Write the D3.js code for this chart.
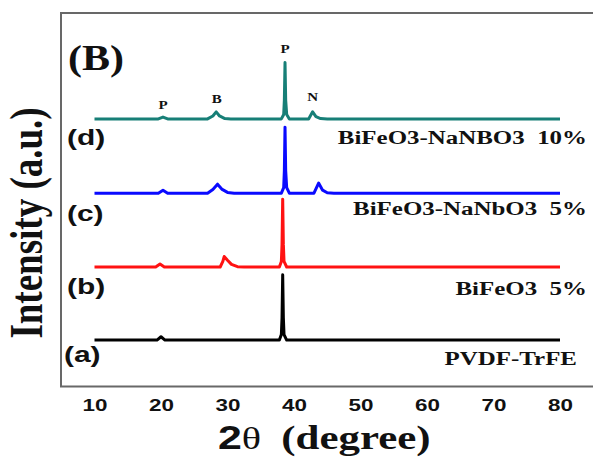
<!DOCTYPE html>
<html>
<head>
<meta charset="utf-8">
<script src="https://cdn.jsdelivr.net/npm/d3@7"></script>
<style>
  html, body { margin: 0; padding: 0; background: #fff; }
  svg { display: block; }
</style>
</head>
<body>
<div id="chart"></div>
<script>
// ---- data (2θ in degrees, intensity in a.u.) ----
const xTicks = [10, 20, 30, 40, 50, 60, 70, 80];

const seriesNames = ["PVDF-TrFE", "BiFeO3  5%", "BiFeO3-NaNbO3  5%", "BiFeO3-NaNBO3  10%"];
const seriesTags = ["(a)", "(b)", "(c)", "(d)"];
const seriesColors = ["#000000", "#ff1212", "#0a0aff", "#177f77"];
const seriesOffsets = [12.3, 31.9, 51.7, 71.6];

const pvdfData = [[10,0],[19.4,0],[20.0,0.9],[20.6,0],[37.8,0],[38.1,1.5],[38.2,6],[38.3,17.5],[38.4,6],[38.5,1.5],[38.9,0],[80,0]];
const bfoData = [[10,0],[19.2,0],[19.85,0.8],[20.5,0],[28.9,0],[29.3,1.5],[29.5,2.8],[30,1.8],[30.6,0.7],[31.5,0.1],[32.5,0],[37.8,0],[38.1,1.5],[38.2,6],[38.3,18.2],[38.4,6],[38.5,1.5],[38.9,0],[80,0]];
const bfoNno5Data = [[10,0],[19.6,0],[20.3,0.8],[21,0],[27,0],[27.8,1.0],[28.5,2.4],[29.2,1.0],[30,0.2],[31,0],[38.1,0],[38.45,1.5],[38.55,6],[38.65,17.7],[38.75,6],[38.9,1.5],[39.3,0],[43,0],[43.7,2.7],[44.3,0.8],[45,0.1],[46,0],[80,0]];
const bfoNno10Data = [[10,0],[19.6,0],[20.3,0.5],[21,0],[27,0],[27.8,0.8],[28.3,1.9],[28.8,0.8],[29.6,0.1],[30.5,0],[38.1,0],[38.45,1.2],[38.55,5],[38.65,15.1],[38.75,5],[38.9,1.2],[39.3,0],[42.2,0],[42.8,1.9],[43.3,0.6],[44,0.1],[45,0],[80,0]];
const seriesData = [pvdfData, bfoData, bfoNno5Data, bfoNno10Data];

const peakLabels = ["P", "B", "P", "N"];
const peakPos = [20.3, 28.4, 38.65, 42.8];
const peakLabelY = [74.2, 75.8, 89.4, 76.3];

// ---- layout ----
const W = 593, H = 458;
const svg = d3.select("#chart").append("svg").attr("width", W).attr("height", H);

const x = d3.scaleLinear().domain([10, 80]).range([94.5, 560]);
const y = d3.scaleLinear().domain([0, 100]).range([386, 13]);

const serif = "'Liberation Serif', 'Times New Roman', serif";
const sans = "'Liberation Sans', Arial, sans-serif";

// frame
const frame = svg.append("g").attr("stroke", "#686868").attr("stroke-width", 2).attr("fill", "none");
frame.append("line").attr("x1", 61).attr("x2", 61).attr("y1", 12).attr("y2", 387);
frame.append("line").attr("x1", 60).attr("x2", W).attr("y1", 13).attr("y2", 13);
frame.append("line").attr("x1", 60).attr("x2", W).attr("y1", 386.5).attr("y2", 386.5);

// x axis (labels only)
const axis = svg.append("g").attr("transform", "translate(0,386)")
  .call(d3.axisBottom(x).tickValues(xTicks).tickSize(0).tickFormat(d3.format("d")));
axis.select(".domain").remove();
axis.selectAll("text")
  .attr("y", 25).attr("dy", 0)
  .attr("transform", "scale(1.4,1)")
  .attr("font-family", sans).attr("font-weight", "bold").attr("font-size", 16)
  .attr("fill", "#111");

// lines
const line = d3.line().x(d => x(d[0])).y(d => d[1]).curve(d3.curveLinear);
seriesData.forEach((data, i) => {
  svg.append("path")
    .datum(data.map(d => [d[0], y(d[1] + seriesOffsets[i])]))
    .attr("d", line)
    .attr("fill", "none")
    .attr("stroke", seriesColors[i])
    .attr("stroke-width", 3)
    .attr("stroke-linejoin", "round");
});

// series tags (a)-(d)
const tagY = [362, 294, 221, 145];
const tagX = [64, 67, 67, 67];
seriesTags.forEach((t, i) => {
  svg.append("text")
    .attr("transform", `translate(${tagX[i]},${tagY[i]}) scale(1.36,1)`)
    .attr("font-family", sans).attr("font-weight", "bold").attr("font-size", 22)
    .attr("fill", "#111").text(t);
});

// series names
const nameY = [365, 295, 215, 144];
const nameX = [577, 587, 587, 587];
seriesNames.forEach((t, i) => {
  svg.append("text")
    .attr("transform", `translate(${nameX[i]},${nameY[i]}) scale(1.34,1)`)
    .attr("text-anchor", "end")
    .attr("font-family", serif).attr("font-weight", "bold").attr("font-size", 18.6)
    .attr("fill", "#111").attr("xml:space", "preserve").style("white-space", "pre").text(t);
});

// peak labels
peakLabels.forEach((t, i) => {
  svg.append("text")
    .attr("transform", `translate(${x(peakPos[i])},${y(peakLabelY[i])}) scale(1.25,1)`)
    .attr("text-anchor", "middle")
    .attr("font-family", serif).attr("font-weight", "bold").attr("font-size", 12)
    .attr("fill", "#111").text(t);
});

// panel label
svg.append("text")
  .attr("transform", "translate(68,70) scale(1.2,1)")
  .attr("font-family", serif).attr("font-weight", "bold").attr("font-size", 35)
  .attr("fill", "#111").text("(B)");

// y title
svg.append("text")
  .attr("transform", "translate(42,223) rotate(-90) scale(1,1.23)")
  .attr("text-anchor", "middle")
  .attr("font-family", serif).attr("font-weight", "bold").attr("font-size", 37)
  .attr("fill", "#111").text("Intensity (a.u.)");

// x title
const xt = svg.append("text")
  .attr("transform", "translate(218,449) scale(1.3,1)")
  .attr("fill", "#111").style("white-space", "pre");
xt.append("tspan").attr("font-family", sans).attr("font-weight", "bold").attr("font-size", 33).text("2");
xt.append("tspan").attr("font-family", serif).attr("font-size", 31).text("θ  ");
xt.append("tspan").attr("font-family", serif).attr("font-weight", "bold").attr("font-size", 33).text("(degree)");
</script>
</body>
</html>
